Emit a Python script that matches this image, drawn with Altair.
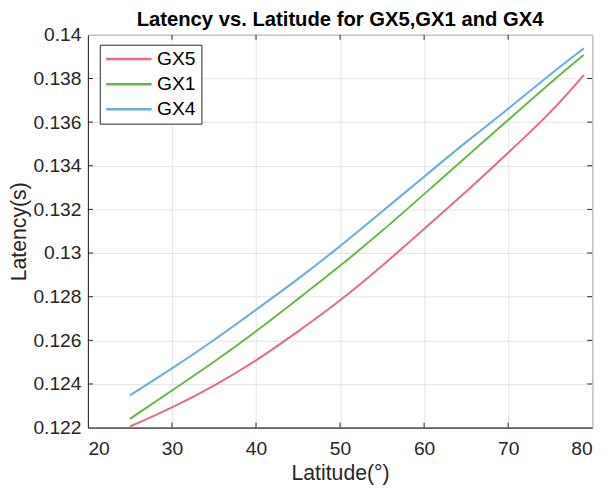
import altair as alt
import pandas as pd

latitude = [25, 30, 35, 40, 45, 50, 55, 60, 65, 70, 75, 79]
gx5 = [0.12205, 0.1229, 0.1239, 0.12505, 0.1264, 0.1278, 0.1294, 0.1311, 0.1328, 0.1346, 0.1364, 0.13815]
gx1 = [0.12240, 0.1237, 0.1250, 0.1264, 0.1279, 0.1294, 0.1310, 0.1327, 0.1344, 0.1361, 0.1378, 0.13908]
gx4 = [0.12348, 0.1247, 0.1260, 0.1274, 0.1288, 0.1303, 0.1319, 0.1335, 0.1351, 0.1366, 0.1382, 0.13938]
series = ["GX5", "GX1", "GX4"]
colors = ["#EA6A83", "#66B947", "#69AEE0"]
x_ticks = [20, 30, 40, 50, 60, 70, 80]
y_ticks = [0.122, 0.124, 0.126, 0.128, 0.13, 0.132, 0.134, 0.136, 0.138, 0.14]

rows = []
for name, vals in zip(series, [gx5, gx1, gx4]):
    for la, v in zip(latitude, vals):
        rows.append({"Latitude": la, "Latency": v, "Series": name})
df = pd.DataFrame(rows)

W, H = 511, 398
FONT = "Liberation Sans"

xs = alt.Scale(domain=[20, 80], nice=False, zero=False)
ys = alt.Scale(domain=[0.122, 0.14], nice=False, zero=False)

lines = alt.Chart(df).mark_line(strokeWidth=2, interpolate="basis").encode(
    x=alt.X("Latitude:Q", scale=xs,
            axis=alt.Axis(values=x_ticks, title="Latitude(°)", format="d")),
    y=alt.Y("Latency:Q", scale=ys,
            axis=alt.Axis(values=y_ticks, title="Latency(s)", format="~g")),
    color=alt.Color("Series:N", scale=alt.Scale(domain=series, range=colors),
                    sort=series,
                    legend=alt.Legend(title=None, orient="none", legendX=12, legendY=10,
                                      symbolType="stroke", symbolSize=2116, clipHeight=19,
                                      symbolStrokeWidth=2.5, labelFontSize=19.5,
                                      labelFont=FONT, rowPadding=5.5, padding=5,
                                      strokeColor="#262626", fillColor="white",
                                      labelColor="black", labelOffset=4)),
)

xt = pd.DataFrame({"t": x_ticks[1:-1]})
yt = pd.DataFrame({"t": y_ticks[1:-1]})
tick_col = "#262626"
bx = alt.Chart(xt).mark_rule(color=tick_col).encode(x=alt.X("t:Q", scale=xs), y=alt.value(H), y2=alt.value(H - 5))
tx = alt.Chart(xt).mark_rule(color=tick_col).encode(x=alt.X("t:Q", scale=xs), y=alt.value(0), y2=alt.value(5))
ly = alt.Chart(yt).mark_rule(color=tick_col).encode(y=alt.Y("t:Q", scale=ys), x=alt.value(0), x2=alt.value(5))
ry = alt.Chart(yt).mark_rule(color=tick_col).encode(y=alt.Y("t:Q", scale=ys), x=alt.value(W), x2=alt.value(W - 5))

chart = alt.layer(lines, bx, tx, ly, ry).properties(
    width=W, height=H,
    title=alt.TitleParams("Latency vs. Latitude for GX5,GX1 and GX4", font=FONT,
                          fontSize=20.5, fontWeight="bold", color="black", offset=0, dy=6),
    autosize=alt.AutoSizeParams(type="none"),
    padding={"left": 81, "top": 24, "right": 15, "bottom": 58},
).configure_view(stroke="#262626", strokeWidth=1).configure_axis(
    grid=True, gridColor="#e3e3e3", gridWidth=1,
    domainColor="#262626", tickSize=0, labelFont=FONT, labelFontSize=19.5,
    labelColor="#262626", titleFont=FONT, titleFontSize=21.5, titleFontWeight="normal",
    titleColor="#262626",
).configure_axisY(titlePadding=2, labelPadding=7).configure_axisX(titlePadding=5, labelPadding=12)

chart.save("out.html", embed_options={"renderer": "svg", "actions": False})
